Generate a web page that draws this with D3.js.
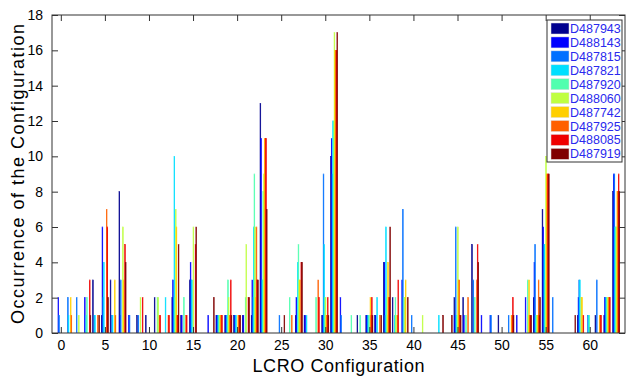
<!DOCTYPE html>
<html>
<head>
<meta charset="utf-8">
<script src="https://cdn.jsdelivr.net/npm/d3@7"></script>
<style>
  body { margin: 0; background: #fff; }
  svg text { font-family: "Liberation Sans", Arial, sans-serif; }
</style>
</head>
<body>
<div id="chart"></div>
<script>
// configurations 0..63
var configs = d3.range(0, 64);

var seriesNames = ['D487943', 'D488143', 'D487815', 'D487821', 'D487920',
                   'D488060', 'D487742', 'D487925', 'D488085', 'D487919'];
var seriesColors = ['#00008f', '#0000ff', '#0070ff', '#00dfff', '#50ffaf',
                    '#bfff40', '#ffcf00', '#ff6000', '#ef0000', '#800000'];

// occurrence per configuration, one array per device
var D487943 = [0,0,0,0,3,1,3,8, 0,1,1,2,0,2,1,3, 0,0,1,1,1,1,1,13, 0,0,0,1,1,0,1,10,
               0,0,1,1,1,4,2,0, 0,0,0,0,0,2,2,5, 0,0,1,0,0,0,2,7, 0,0,0,1,0,1,1,8];
var D488143 = [2,0,0,2,0,6,0,1, 1,0,0,0,0,3,1,4, 0,1,1,1,1,1,3,11, 0,0,0,2,1,0,1,11,
               2,0,0,1,1,4,0,3, 0,0,0,0,0,1,1,0, 1,1,0,0,1,2,4,6, 0,0,0,2,0,0,2,9];
var D487815 = [1,2,2,0,1,2,1,3, 1,1,0,0,0,2,0,3, 0,0,1,1,1,0,2,3, 0,1,0,0,0,0,9,9,
               1,0,0,1,0,1,0,7, 1,0,0,0,0,6,0,3, 0,1,0,1,0,0,5,5, 2,0,0,3,1,3,2,9];
var D487821 = [0,1,0,1,1,4,1,0, 0,0,0,0,2,10,0,3, 0,0,1,1,1,0,6,3, 0,0,0,4,1,0,5,12,
               0,0,0,1,2,6,1,0, 0,0,0,1,0,1,0,0, 0,0,0,0,0,0,1,5, 0,0,0,3,1,0,2,6];
var D487920 = [0,0,0,2,0,0,0,0, 0,0,0,2,0,2,2,0, 0,0,1,3,0,2,9,8, 0,0,2,5,0,2,2,12,
               0,1,1,1,0,2,2,2, 0,0,0,0,0,1,1,2, 0,0,0,0,0,3,1,3, 0,0,0,0,1,0,2,6];
var D488060 = [0,0,1,0,0,0,0,6, 0,2,0,2,0,7,0,6, 0,0,1,2,0,5,6,9, 0,0,0,3,0,0,2,17,
               0,0,0,0,0,1,1,2, 0,1,0,0,0,6,0,0, 0,0,0,0,0,1,1,10, 0,0,0,2,0,0,2,6];
var D487742 = [0,2,0,0,0,0,3,3, 0,0,0,0,0,6,0,0, 0,0,1,1,1,0,2,11, 0,0,0,3,0,0,1,16,
               0,0,0,2,0,4,0,3, 0,0,0,0,0,3,0,0, 0,0,0,1,0,3,1,9, 0,0,0,2,0,1,2,8];
var D487925 = [0,1,0,0,1,7,1,0, 0,0,0,1,1,1,1,0, 0,0,1,1,1,0,6,11, 0,0,1,0,0,3,1,16,
               0,0,0,1,1,2,1,0, 0,0,0,0,0,3,2,3, 0,0,0,1,0,1,3,9, 0,0,0,0,0,1,2,8];
var D488085 = [0,0,0,3,0,6,0,5, 0,2,0,1,1,1,1,5, 0,0,1,3,1,2,3,11, 0,0,0,4,0,2,2,16,
               0,0,0,2,0,2,3,0, 0,0,0,0,0,1,0,5, 0,0,0,2,0,1,1,9, 0,0,0,1,0,1,2,9];
var D487919 = [0,0,0,1,1,2,0,4, 0,0,0,0,0,5,0,6, 0,2,0,1,1,2,3,7, 0,1,0,4,0,0,1,17,
               0,0,0,1,1,6,0,2, 0,0,0,1,1,1,0,4, 0,0,0,1,0,1,2,9, 0,0,1,0,0,0,0,8];

var seriesValues = [D487943, D488143, D487815, D487821, D487920,
                    D488060, D487742, D487925, D488085, D487919];

var xTicks = d3.range(0, 61, 5);
var yTicks = d3.range(0, 19, 2);

var width = 626, height = 381;
var plot = {left: 52, right: 625, top: 15, bottom: 333};

var svg = d3.select("#chart").append("svg")
    .attr("width", width)
    .attr("height", height);

var x = d3.scaleLinear().domain([-1, 64]).range([plot.left, plot.right]);
var y = d3.scaleLinear().domain([0, 18]).range([plot.bottom, plot.top]);
// position of each device inside a group (MATLAB grouped bars, group width 0.8)
var inner = d3.scaleBand().domain(seriesNames).range([-0.4, 0.4]);

svg.append("defs").append("clipPath").attr("id", "clip")
  .append("rect")
    .attr("x", plot.left).attr("y", plot.top)
    .attr("width", plot.right - plot.left).attr("height", plot.bottom - plot.top);

var bars = svg.append("g").attr("clip-path", "url(#clip)");

seriesNames.forEach(function(name, i) {
  var vals = seriesValues[i];
  bars.append("g")
    .selectAll("rect")
    .data(configs.filter(function(c) { return vals[c] > 0; }))
    .enter().append("rect")
      .attr("x", function(c) { return x(c + inner(name)); })
      .attr("width", function(c) { return x(c + inner(name) + inner.bandwidth()) - x(c + inner(name)); })
      .attr("y", function(c) { return y(vals[c]); })
      .attr("height", function(c) { return y(0) - y(vals[c]); })
      .style("fill", seriesColors[i])
      .style("stroke", seriesColors[i])
      .style("stroke-width", 0.6);
});

// frame
svg.append("rect")
    .attr("x", plot.left).attr("y", plot.top)
    .attr("width", plot.right - plot.left).attr("height", plot.bottom - plot.top)
    .style("fill", "none").style("stroke", "#333").style("stroke-width", 1);

var tickLen = 6;

// x axis with inward ticks (bottom and top)
svg.append("g")
    .attr("transform", "translate(0," + plot.bottom + ")")
    .call(d3.axisBottom(x).tickValues(xTicks).tickSizeInner(-tickLen).tickSizeOuter(0).tickPadding(7));
svg.append("g")
    .attr("transform", "translate(0," + plot.top + ")")
    .call(d3.axisTop(x).tickValues(xTicks).tickSizeInner(-tickLen).tickSizeOuter(0).tickFormat(""));

// y axis with inward ticks (left and right)
svg.append("g")
    .attr("transform", "translate(" + plot.left + ",0)")
    .call(d3.axisLeft(y).tickValues(yTicks).tickSizeInner(-tickLen).tickSizeOuter(0).tickPadding(9));
svg.append("g")
    .attr("transform", "translate(" + plot.right + ",0)")
    .call(d3.axisRight(y).tickValues(yTicks).tickSizeInner(-tickLen).tickSizeOuter(0).tickFormat(""));

svg.selectAll(".domain").remove();
svg.selectAll(".tick line").style("stroke", "#333");
svg.selectAll(".tick text")
    .style("font-size", "14px")
    .style("fill", "#000");

// axis labels
svg.append("text")
    .attr("x", (plot.left + plot.right) / 2)
    .attr("y", 372)
    .attr("text-anchor", "middle")
    .attr("textLength", 172)
    .attr("lengthAdjust", "spacing")
    .style("font-size", "18px")
    .text("LCRO Configuration");

svg.append("text")
    .attr("transform", "translate(24," + ((plot.top + plot.bottom) / 2) + ") rotate(-90)")
    .attr("text-anchor", "middle")
    .attr("textLength", 300)
    .attr("lengthAdjust", "spacing")
    .style("font-size", "18px")
    .text("Occurrence of the Configuration");

// legend
var lg = svg.append("g").attr("transform", "translate(547,20)");
lg.append("rect")
    .attr("width", 75).attr("height", 142)
    .style("fill", "#fff").style("stroke", "#333").style("stroke-width", 1);

var item = lg.selectAll(".item")
    .data(seriesNames)
    .enter().append("g")
      .attr("class", "item")
      .attr("transform", function(d, i) { return "translate(0," + (8.5 + i * 13.93) + ")"; });

item.append("rect")
    .attr("x", 4).attr("y", -5.5)
    .attr("width", 18).attr("height", 11)
    .style("fill", function(d, i) { return seriesColors[i]; })
    .style("stroke", "#ddd").style("stroke-width", 0.5);

item.append("text")
    .attr("x", 23)
    .attr("y", 4.5)
    .style("font-size", "12.5px")
    .style("fill", "#2a2aee")
    .text(function(d) { return d; });
</script>
</body>
</html>
